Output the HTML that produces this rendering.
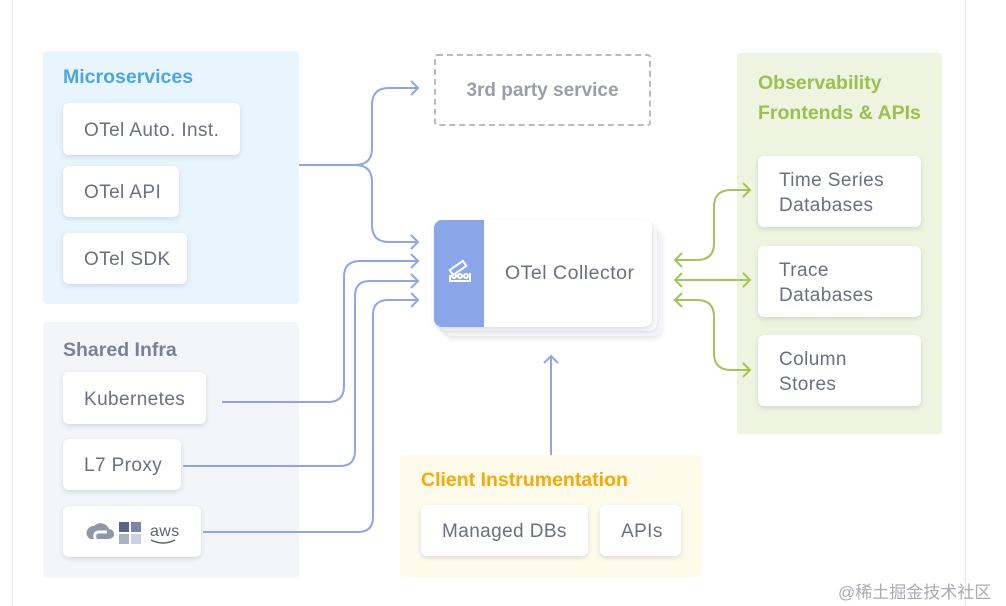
<!DOCTYPE html>
<html><head><meta charset="utf-8"><style>
body{margin:0;width:1006px;height:606px;background:#fff;position:relative;overflow:hidden;font-family:"Liberation Sans",sans-serif;}
.a{position:absolute;box-sizing:border-box}
.panel{border-radius:4px}
.box{background:#fff;border-radius:6px;box-shadow:0 2px 5px rgba(120,130,150,.25);color:#6b7080;font-size:19px;display:flex;align-items:center;padding-left:21px;padding-top:3px;letter-spacing:.4px}
.t{font-weight:bold;font-size:19.5px}
</style></head><body>
<div class="a" style="left:12px;top:0;width:1px;height:606px;background:#eceef2"></div>
<div class="a" style="left:965px;top:0;width:1px;height:606px;background:#e4e6ea"></div>

<div class="a panel" style="left:43px;top:51px;width:256px;height:253px;background:#e9f5fd"></div>
<div class="a t" style="left:63px;top:66px;color:#4ea5e0">Microservices</div>
<div class="a box" style="left:63px;top:103px;width:177px;height:52px">OTel Auto. Inst.</div>
<div class="a box" style="left:63px;top:166px;width:116px;height:51px">OTel API</div>
<div class="a box" style="left:63px;top:233px;width:124px;height:51px">OTel SDK</div>

<div class="a panel" style="left:43px;top:322px;width:256px;height:256px;background:#f3f5f8"></div>
<div class="a t" style="left:63px;top:339px;color:#7b8190">Shared Infra</div>
<div class="a box" style="left:63px;top:372px;width:143px;height:52px">Kubernetes</div>
<div class="a box" style="left:63px;top:439px;width:118px;height:51px">L7 Proxy</div>
<div class="a box" style="left:63px;top:506px;width:138px;height:51px;padding-top:0">
<svg width="110" height="30" viewBox="0 0 110 30"><path d="M6 22a7 7 0 0 1 4-13a9 9 0 0 1 15 3a5 5 0 0 1 0 10z" fill="#8e96a8"/><path d="M12 22a4 4 0 0 1 3-7h8" stroke="#fff" stroke-width="3" fill="none"/>
<rect x="35" y="5" width="10" height="10" fill="#5b6687"/><rect x="47" y="5" width="10" height="10" fill="#7d87a5"/><rect x="35" y="17" width="10" height="10" fill="#aab1c2"/><rect x="47" y="17" width="10" height="10" fill="#cdd1db"/>
<text x="66" y="19" font-family="Liberation Sans" font-size="16" fill="#5b6270">aws</text><path d="M67 23q12 6 24 0" stroke="#5b6270" stroke-width="1.5" fill="none"/></svg></div>

<div class="a" style="left:434px;top:54px;width:217px;height:72px;border:2px dashed #b9bcc4;border-radius:3px;display:flex;align-items:center;justify-content:center;color:#9a9ea8;font-weight:bold;font-size:19px;padding-top:2px">3rd party service</div>

<div class="a" style="left:444px;top:230px;width:218px;height:106px;background:#f4f5f8;border-radius:8px;box-shadow:0 2px 6px rgba(0,0,0,.12)"></div>
<div class="a" style="left:439px;top:225px;width:218px;height:106px;background:#f8f9fb;border-radius:8px;box-shadow:0 1px 4px rgba(0,0,0,.1)"></div>
<div class="a" style="left:434px;top:220px;width:218px;height:107px;background:#fff;border-radius:8px;box-shadow:0 2px 5px rgba(0,0,0,.12);overflow:hidden">
<div class="a" style="left:0;top:0;width:50px;height:100%;background:#8aa5e8"></div>
<svg class="a" style="left:10px;top:35px" width="30" height="30" viewBox="0 0 30 30" fill="none" stroke="#fff" stroke-width="2"><rect x="6" y="10" width="16" height="6" transform="rotate(-35 14 13)"/><circle cx="10" cy="21" r="2"/><circle cx="16" cy="21" r="2"/><circle cx="22" cy="21" r="2"/><path d="M6 20v6h20v-8"/></svg>
<div class="a" style="left:71px;top:42px;font-size:19.5px;color:#6b7080;letter-spacing:.5px">OTel Collector</div>
</div>

<div class="a panel" style="left:737px;top:53px;width:205px;height:381px;background:#eef4e0"></div>
<div class="a t" style="left:758px;top:68px;color:#9dbf4f;line-height:30px">Observability<br>Frontends &amp; APIs</div>
<div class="a box" style="left:758px;top:156px;width:163px;height:71px;line-height:25px">Time Series<br>Databases</div>
<div class="a box" style="left:758px;top:246px;width:163px;height:71px;line-height:25px">Trace<br>Databases</div>
<div class="a box" style="left:758px;top:335px;width:163px;height:71px;line-height:25px">Column<br>Stores</div>

<div class="a panel" style="left:400px;top:455px;width:302px;height:122px;background:#fefbea"></div>
<div class="a t" style="left:421px;top:469px;color:#f5aa0a">Client Instrumentation</div>
<div class="a box" style="left:421px;top:505px;width:167px;height:51px">Managed DBs</div>
<div class="a box" style="left:600px;top:505px;width:81px;height:51px">APIs</div>

<svg class="a" style="left:0;top:0" width="1006" height="606" fill="none" stroke-width="2">
<g stroke="#8fa6e6">
<path d="M299 165H355Q372 165 372 148V105Q372 88 389 88H418"/>
<path d="M355 165Q372 165 372 182V225Q372 242 389 242H418"/>
<path d="M222 402H328Q344 402 344 386V277Q344 261 360 261H418"/>
<path d="M183 466H340Q355 466 355 451V296Q355 281 370 281H418"/>
<path d="M203 532H358Q373 532 373 517V315Q373 300 388 300H418"/>
<path d="M551 455V356"/>
<path d="M411 81l7 7-7 7M411 235l7 7-7 7M411 254l7 7-7 7M411 274l7 7-7 7M411 293l7 7-7 7M544 363l7-7 7 7"/>
</g>
<g stroke="#a3c35c">
<path d="M675 260H697Q714 260 714 243V207Q714 190 731 190H750"/>
<path d="M675 280H750"/>
<path d="M675 300H697Q714 300 714 317V353Q714 370 731 370H750"/>
<path d="M682 253l-7 7 7 7M682 273l-7 7 7 7M682 293l-7 7 7 7M743 183l7 7-7 7M743 273l7 7-7 7M743 363l7 7-7 7"/>
</g>
</svg>
<div class="a" style="left:838px;top:578px;font-size:17px;color:#a8abb2;font-family:'Liberation Sans','Noto Sans CJK SC',sans-serif">@稀土掘金技术社区</div>
</body></html>
